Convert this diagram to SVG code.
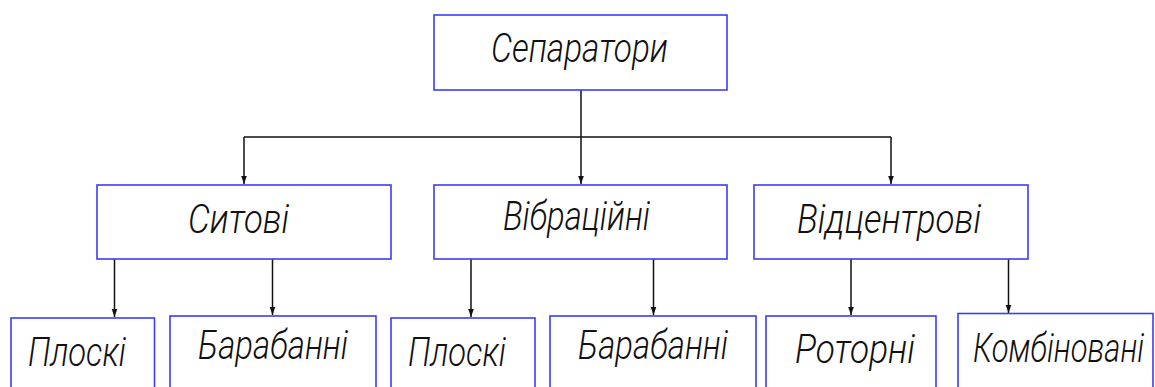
<svg xmlns="http://www.w3.org/2000/svg" width="1155" height="387" viewBox="0 0 1155 387">
<style>
.box{fill:#fff;stroke:#3c3cf5;stroke-width:1.6}
.lbl{font-family:Roboto,"Liberation Sans",sans-serif;font-weight:300;font-style:italic;font-size:40px;fill:#111;text-anchor:middle}
.con{fill:none;stroke:#111;stroke-width:1.5}
</style>
<defs>
<marker id="arr" viewBox="0 0 8 10" refX="8" refY="5" markerWidth="8" markerHeight="10" markerUnits="userSpaceOnUse" orient="auto">
<path d="M0,2.2 L8,5 L0,7.8 z" fill="#111"/>
</marker>
</defs>
<rect width="1155" height="387" fill="#fff"/>
<g id="connectors">
<path class="con" d="M581,90 V137"/>
<path class="con" d="M244,137 H891"/>
<path class="con" d="M244,137 V184" marker-end="url(#arr)"/>
<path class="con" d="M581,137 V184" marker-end="url(#arr)"/>
<path class="con" d="M891,137 V184" marker-end="url(#arr)"/>
<path class="con" d="M114.5,259 V317" marker-end="url(#arr)"/>
<path class="con" d="M272.5,259 V315" marker-end="url(#arr)"/>
<path class="con" d="M471,259 V317" marker-end="url(#arr)"/>
<path class="con" d="M653.5,259 V315" marker-end="url(#arr)"/>
<path class="con" d="M851,259 V315" marker-end="url(#arr)"/>
<path class="con" d="M1008.5,259 V313" marker-end="url(#arr)"/>
</g>
<g id="n-separatory"><rect class="box" x="434" y="15" width="293" height="75"/><text class="lbl" x="579.5" y="62" textLength="177" lengthAdjust="spacingAndGlyphs">Сепаратори</text></g>
<g id="n-sytovi"><rect class="box" x="97" y="185" width="294" height="74"/><text class="lbl" x="238.5" y="233" textLength="101" lengthAdjust="spacingAndGlyphs">Ситові</text></g>
<g id="n-vibratsiini"><rect class="box" x="434" y="185" width="293" height="74"/><text class="lbl" x="576.5" y="230" textLength="147" lengthAdjust="spacingAndGlyphs">Вібраційні</text></g>
<g id="n-vidtsentrovi"><rect class="box" x="754" y="185" width="274" height="74"/><text class="lbl" x="889" y="233" textLength="184" lengthAdjust="spacingAndGlyphs">Відцентрові</text></g>
<g id="n-ploski1"><rect class="box" x="11" y="318" width="143.5" height="80"/><text class="lbl" x="77" y="366" textLength="98" lengthAdjust="spacingAndGlyphs">Плоскі</text></g>
<g id="n-barabanni1"><rect class="box" x="170" y="316" width="206" height="80"/><text class="lbl" x="273" y="359" textLength="150" lengthAdjust="spacingAndGlyphs">Барабанні</text></g>
<g id="n-ploski2"><rect class="box" x="391" y="318" width="144" height="80"/><text class="lbl" x="457" y="366" textLength="98" lengthAdjust="spacingAndGlyphs">Плоскі</text></g>
<g id="n-barabanni2"><rect class="box" x="550" y="316" width="206" height="80"/><text class="lbl" x="653" y="359" textLength="150" lengthAdjust="spacingAndGlyphs">Барабанні</text></g>
<g id="n-rotorni"><rect class="box" x="766" y="316" width="170" height="80"/><text class="lbl" x="855" y="363" textLength="120" lengthAdjust="spacingAndGlyphs">Роторні</text></g>
<g id="n-kombinovani"><rect class="box" x="958" y="313.5" width="195" height="80"/><text class="lbl" x="1058.5" y="362" textLength="171" lengthAdjust="spacingAndGlyphs">Комбіновані</text></g>
</svg>
